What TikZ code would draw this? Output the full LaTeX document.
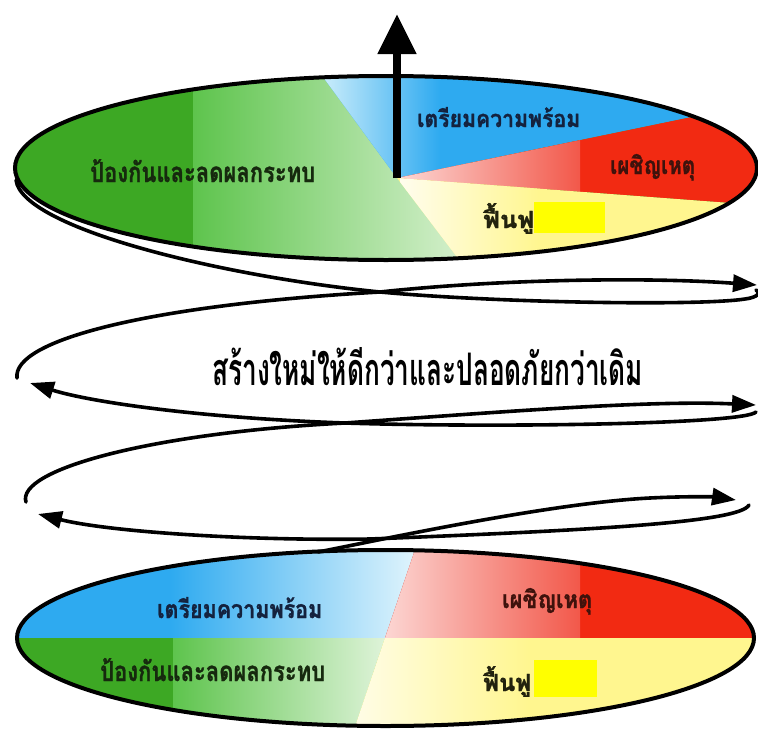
\documentclass[tikz,border=0pt]{standalone}
\usepackage{fontspec}
\usepackage{graphicx}
\usetikzlibrary{arrows.meta}
\newfontfamily\thaifont[Script=Thai]{Loma}
\newfontfamily\thaiheavy[Script=Thai, BoldFeatures={FakeBold=1.2}]{Loma}
\definecolor{gdark}{HTML}{3DA824}
\definecolor{gmid}{HTML}{5EC44D}
\definecolor{gpale}{HTML}{D8F1D0}
\definecolor{bluec}{HTML}{2EAAF0}
\definecolor{bluel}{HTML}{D0EFFB}
\definecolor{redc}{HTML}{F22A12}
\definecolor{redm}{HTML}{F2584A}
\definecolor{redl}{HTML}{FCD6D3}
\definecolor{yelc}{HTML}{FFF68F}
\definecolor{yell}{HTML}{FFFDEE}
\definecolor{yelbox}{HTML}{FFFF00}
\definecolor{tblue}{HTML}{14223E}
\definecolor{tgreen}{HTML}{16290E}
\definecolor{tred}{HTML}{3E120C}
\definecolor{tyel}{HTML}{22220E}
\newcommand{\thaitxt}[3]{\resizebox{#1}{#2}{\thaifont\bfseries #3}}
\newcommand{\thaitxtb}[3]{\resizebox{#1}{#2}{\thaiheavy\bfseries #3}}
\tikzset{
  spiral/.style={line width=3.6pt, line cap=round},
  spiralarrow/.style={spiral, -{Triangle[width=17pt,length=24pt]}},
  rim/.style={line width=4pt},
  lbl/.style={inner sep=0pt, anchor=base west},
}
\begin{document}
\begin{tikzpicture}[x=1pt,y=-1pt]
\useasboundingbox (0,0) rectangle (758,731);
% ---------------- top ellipse ----------------
\coordinate (P) at (397,178);
\begin{scope}
  \clip (386,168) ellipse [x radius=371pt, y radius=92pt];
  \fill[gdark] (0,60) rectangle (758,280);
  \shade[left color=gmid, right color=gpale] (193,60) rectangle (470,280);
  % blue
  \begin{scope}
    \clip (P) -- (249,-24) -- (977,-24) -- (977,58) -- cycle;
    \fill[bluec] (0,0) rectangle (758,280);
    \shade[left color=bluel, right color=bluec] (318,60) rectangle (440,200);
  \end{scope}
  % red
  \begin{scope}
    \clip (P) -- (977,58) -- (1063,58) -- (1063,228) -- cycle;
    \fill[redc] (0,0) rectangle (758,280);
    \shade[left color=redl, right color=redm] (400,60) rectangle (580,280);
  \end{scope}
  % yellow
  \begin{scope}
    \clip (P) -- (1063,228) -- (1063,400) -- (517,336) -- cycle;
    \fill[yelc] (0,0) rectangle (758,280);
    \shade[left color=yell, right color=yelc] (400,60) rectangle (540,280);
  \end{scope}
\end{scope}
\draw[rim] (386,168) ellipse [x radius=371pt, y radius=92pt];
\fill[yelbox] (534,202) rectangle (605,233);
\node[lbl] (t1) at (417,127) {\color{tblue}\thaitxtb{163pt}{20pt}{เตรียมความพร้อม}};
\node[lbl] (t2) at (90,182) {\color{tgreen}\thaitxtb{225pt}{23pt}{ป้องกันและลดผลกระทบ}};
\node[lbl] (t3) at (610,174) {\color{tred}\thaitxtb{85pt}{20pt}{เผชิญเหตุ}};
\node[lbl] (t4) at (483,228) {\color{tyel}\thaitxtb{51pt}{25pt}{ฟื้นฟู}};
% arrow up
\coordinate (Atip) at (397,14);
\draw[line width=8pt, -{Triangle[width=37pt,length=40pt]}] (P) -- (Atip);
% ---------------- bottom ellipse ----------------
\begin{scope}
  \clip (385.5,638) ellipse [x radius=368.5pt, y radius=88pt];
  \begin{scope}
    \clip (0,500) -- (432,500) -- (385,638) -- (0,638) -- cycle;
    \fill[bluec] (0,500) rectangle (758,780);
    \shade[left color=bluec, right color=bluel!60!white] (170,500) rectangle (420,640);
  \end{scope}
  \begin{scope}
    \clip (432,500) -- (758,500) -- (758,638) -- (385,638) -- cycle;
    \fill[redc] (0,500) rectangle (758,780);
    \shade[left color=redl, right color=redm] (385,500) rectangle (580,640);
  \end{scope}
  \begin{scope}
    \clip (0,638) -- (385,638) -- (337,780) -- (0,780) -- cycle;
    \fill[gdark] (0,500) rectangle (758,780);
    \shade[left color=gmid, right color=gpale!60!white] (173,630) rectangle (400,780);
  \end{scope}
  \begin{scope}
    \clip (385,638) -- (758,638) -- (758,780) -- (337,780) -- cycle;
    \fill[yelc] (0,500) rectangle (758,780);
    \shade[left color=yell, right color=yelc] (340,630) rectangle (530,780);
  \end{scope}
\end{scope}
\draw[rim] (385.5,638) ellipse [x radius=368.5pt, y radius=88pt];
\fill[yelbox] (534,660) rectangle (597,697);
\node[lbl] (b1) at (157,618) {\color{tblue}\thaitxtb{165pt}{21pt}{เตรียมความพร้อม}};
\node[lbl] (b2) at (100,681) {\color{tgreen}\thaitxtb{225pt}{23pt}{ป้องกันและลดผลกระทบ}};
\node[lbl] (b3) at (502,608) {\color{tred}\thaitxtb{90pt}{20pt}{เผชิญเหตุ}};
\node[lbl] (b4) at (483,691) {\color{tyel}\thaitxtb{48pt}{25pt}{ฟื้นฟู}};
% ---------------- title ----------------
\node[lbl] (title) at (212,385) {\thaitxt{431pt}{38pt}{สร้างใหม่ให้ดีกว่าและปลอดภัยกว่าเดิม}};
% ---------------- spiral ----------------
\coordinate (s1a) at (16,180);
\coordinate (x1) at (380,292);
\coordinate (r1) at (756,290);
\coordinate (l1) at (17,378);
\coordinate (r1tip) at (757,285);
\coordinate (r2) at (756,412);
\coordinate (x2) at (345,423);
\coordinate (l1tip) at (30,383);
\coordinate (l2) at (26,502);
\coordinate (r2tip) at (756,405);
\coordinate (r3) at (749,505);
\coordinate (x3) at (370,539);
\coordinate (l2tip) at (38,514);
\coordinate (b0) at (318,552);
\coordinate (r3tip) at (736,500);
% top loop
\draw[spiral] (s1a) .. controls (22,228) and (220,276) .. (x1)
  .. controls (500,303) and (700,306) .. (745,299)
  .. controls (760,297) and (760,292) .. (r1);
\draw[spiralarrow] (l1) .. controls (12,340) and (150,305) .. (x1)
  .. controls (500,279) and (650,277) .. (r1tip);
% middle loop
\draw[spiralarrow] (r2) .. controls (745,424) and (500,428) .. (x2)
  .. controls (200,418) and (90,402) .. (l1tip);
\draw[spiralarrow] (l2) .. controls (16,470) and (150,433) .. (x2)
  .. controls (500,412) and (650,400) .. (r2tip);
% bottom loop
\draw[spiralarrow] (r3) .. controls (740,522) and (600,530) .. (x3)
  .. controls (250,541) and (110,532) .. (l2tip);
\draw[spiralarrow] (b0) .. controls (380,540) and (550,503) .. (650,498)
  .. controls (690,496) and (715,497) .. (r3tip);
\end{tikzpicture}
\end{document}
